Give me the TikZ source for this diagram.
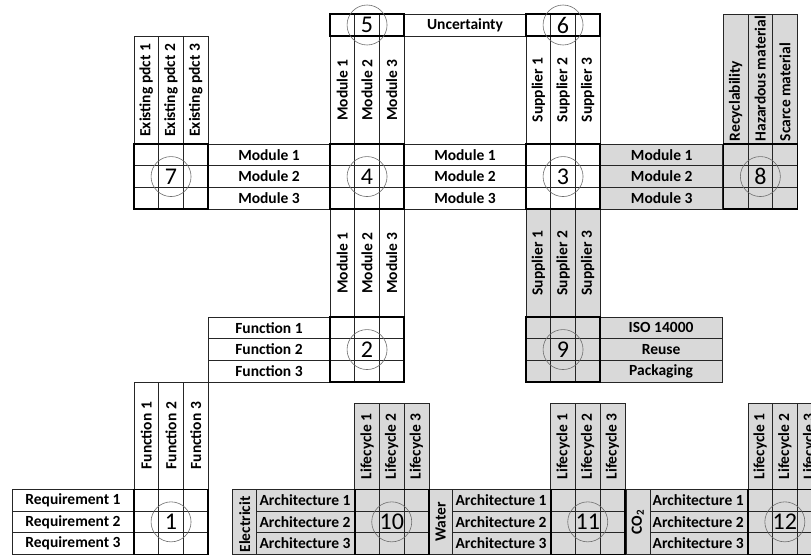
\documentclass[tikz,border=0pt]{standalone}
\usepackage{fontspec}
\setmainfont{Carlito}
\usetikzlibrary{positioning}
\definecolor{cellgray}{RGB}{217,217,217}
\definecolor{ring}{RGB}{110,110,110}

\begin{document}
\begin{tikzpicture}[x=1pt,y=-1pt,
    lbl/.style={draw=black!85,line width=0.6pt,inner sep=0pt,font=\fontsize{15.5}{18}\selectfont\bfseries},
    rowlbl/.style={lbl,minimum width=122pt,minimum height=21.7pt},
    collbl/.style={lbl,rotate=90,minimum height=24.7pt},
    txt/.style={inner sep=0pt,font=\fontsize{15.5}{18}\selectfont\bfseries},
    grid/.style={draw=black!85,line width=0.6pt},
    frame/.style={draw=black,line width=1.6pt},
    num/.style={circle,draw=ring,line width=0.6pt,minimum size=40pt,inner sep=0pt,font=\fontsize{24}{24}\selectfont}]
  \clip (0,0) rectangle (811,555);
  \fill[white] (0,0) rectangle (811,555);
  % row labels
  \foreach \nm/\cx/\ry/\fc/\base in {req/73/489.3/white/Requirement,modA/269/144/white/Module,modB/465/144/white/Module,modC/661.7/144/cellgray/Module,fun/269/317/white/Function}
    \foreach \i in {1,2,3}
      \node[rowlbl,fill=\fc] (\nm\i) at (\cx,{\ry+(\i-.5)*21.7}) {\base\ \i};
  \foreach \i/\t in {1/ISO 14000,2/Reuse,3/Packaging}
    \node[rowlbl,fill=cellgray] (iso\i) at (661.1,{317+(\i-.5)*21.7}) {\t};
  \node[rowlbl,minimum height=22pt] (unc) at (465,25) {Uncertainty};
  % column labels
  \foreach \nm/\cx/\ya/\yb/\fc/\base in {exist/134/36.7/144/white/Existing pdct,modD/330/36/144/white/Module,supA/526/36/144/white/Supplier,modE/330/209.1/317/white/Module,supB/526/209.1/317/cellgray/Supplier,funD/134/382.1/489.3/white/Function,lifeA/354.7/403/489.3/cellgray/Lifecycle,lifeB/550.7/403/489.3/cellgray/Lifecycle,lifeC/747.8/403/489.3/cellgray/Lifecycle}
    \foreach \i in {1,2,3}
      \node[collbl,fill=\fc,minimum width={\yb-\ya}] (\nm\i) at ({\cx+(\i-.5)*24.7},{(\ya+\yb)/2}) {\base\ \i};
  \foreach \i/\t in {1/Recyclability,2/Hazardous material,3/Scarce material}{
    \node[collbl,fill=cellgray,minimum width=130pt] (eco\i) at ({723.3+(\i-.5)*24.7},79) {};
    \node[txt,rotate=90,anchor=west] (ecot\i) at ([yshift=3pt]eco\i.west) {\t};
  }
  % bottom rows
  \foreach \n/\mx in {10/354.7,11/550.7,12/747.8}{
    \foreach \i in {1,2,3}{
      \node[lbl,fill=cellgray,minimum width=98pt,minimum height=21.7pt] (arch\n\i) at ({\mx-49},{489.3+(\i-.5)*21.7}) {};
      \node[txt,anchor=west] (archt\n\i) at ([xshift=3pt]arch\n\i.west) {Architecture \i};
    }
    \node[collbl,fill=cellgray,minimum width=65.1pt,minimum height=24pt] (src\n) at ({\mx-110},521.85) {};
  }
  \node[txt,rotate=90] (watt) at (src11) {Water};
  \node[txt,rotate=90] (co2t) at (src12) {CO\textsubscript{2}};
  \begin{scope}
    \clip (src10.south west) rectangle (src10.north east);
    \node[txt,rotate=90,anchor=west] (elect) at ([yshift=2pt]src10.west) {Electricit};
  \end{scope}
  % matrices
  \foreach \n/\mx/\my/\fc in {1/134/489.3/white,2/330/317/white,3/526/144/white,4/330/144/white,7/134/144/white,8/723.3/144/cellgray,9/526/317/cellgray,10/354.7/489.3/cellgray,11/550.7/489.3/cellgray,12/747.8/489.3/cellgray}{
    \fill[fill=\fc] (\mx,\my) rectangle ++(74.1,65.1);
    \draw[grid] ({\mx+24.7},\my) -- ++(0,65.1) ({\mx+49.4},\my) -- ++(0,65.1)
      (\mx,{\my+21.7}) -- ++(74.1,0) (\mx,{\my+43.4}) -- ++(74.1,0);
    \draw[frame] (\mx,\my) rectangle ++(74.1,65.1);
    \node[num] (q\n) at ({\mx+37.05},{\my+32.55}) {\n};
  }
  \foreach \n/\mx in {5/330,6/526}{
    \draw[grid] ({\mx+24.7},14) -- ++(0,22) ({\mx+49.4},14) -- ++(0,22);
    \draw[frame] (\mx,14) rectangle ++(74.1,22);
    \node[num] (q\n) at ({\mx+37.05},25) {\n};
  }
\end{tikzpicture}
\end{document}
